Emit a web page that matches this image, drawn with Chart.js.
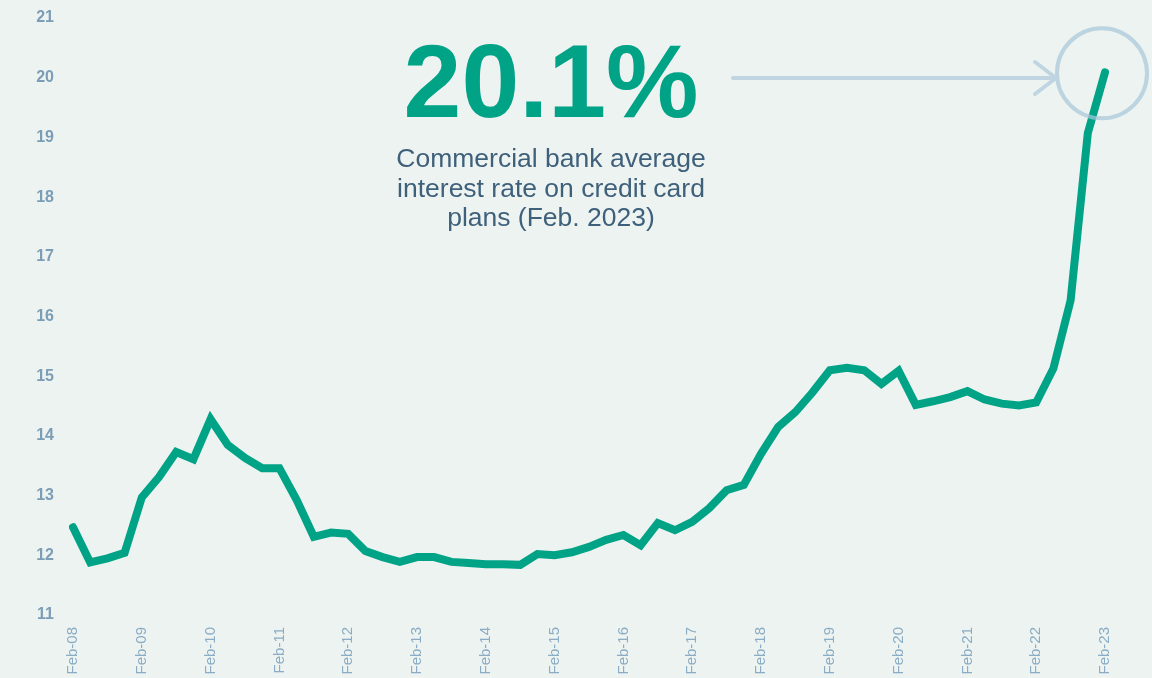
<!DOCTYPE html>
<html>
<head>
<meta charset="utf-8">
<script src="https://cdn.jsdelivr.net/npm/chart.js@4/dist/chart.umd.min.js"></script>
<style>
    body { margin: 0; background: #edf3f1; }
    #wrap { width: 1152px; height: 678px; }
</style>
</head>
<body>
<div id="wrap"><canvas id="myChart" width="1152" height="678"></canvas></div>
<script>
// quarterly survey months, Feb-08 .. Feb-23
var years = ["08", "09", "10", "11", "12", "13", "14", "15", "16", "17", "18", "19", "20", "21", "22", "23"];
var months = ["Feb", "May", "Aug", "Nov"];
var rates = [
    12.47, 11.88, 11.95, 12.04,
    12.97, 13.31, 13.73, 13.61,
    14.28, 13.85, 13.63, 13.46,
    13.46, 12.93, 12.31, 12.38,
    12.36, 12.07, 11.97, 11.89,
    11.97, 11.97, 11.89, 11.87,
    11.85, 11.85, 11.84, 12.02,
    12.00, 12.05, 12.14, 12.26,
    12.34, 12.17, 12.54, 12.42,
    12.56, 12.79, 13.09, 13.18,
    13.70, 14.15, 14.40, 14.73,
    15.10, 15.14, 15.10, 14.87,
    15.09, 14.52, 14.58, 14.65,
    14.75, 14.61, 14.54, 14.51,
    14.56, 15.13, 16.27, 19.07,
    20.09
];
var yTicks = [11, 12, 13, 14, 15, 16, 17, 18, 19, 20, 21];
var bigText = "20.1%";
var noteLines = ["Commercial bank average", "interest rate on credit card", "plans (Feb. 2023)"];

var labels = [];
for (var i = 0; i < years.length; i++) {
    for (var j = 0; j < months.length; j++) {
        if (labels.length < rates.length) labels.push(months[j] + "-" + years[i]);
    }
}

var green = "#00a386";

var noteDraw = {
    id: "noteDraw",
    afterDatasetsDraw: function (chart) {
        var ctx = chart.ctx;
        var pt = chart.getDatasetMeta(0).data[rates.length - 1];
        var cx = pt.x - 3, cy = pt.y + 1, r = 45;
        ctx.save();
        // circle round last point
        ctx.strokeStyle = "rgba(168,200,218,0.72)";
        ctx.lineWidth = 4;
        ctx.beginPath();
        ctx.arc(cx, cy, r, 0, Math.PI * 2);
        ctx.stroke();
        // arrow
        var ay = 78, ax = cx - r - 1;
        ctx.lineCap = "round";
        ctx.lineJoin = "round";
        ctx.beginPath();
        ctx.moveTo(733, ay);
        ctx.lineTo(ax, ay);
        ctx.moveTo(ax - 21, ay - 16);
        ctx.lineTo(ax, ay);
        ctx.lineTo(ax - 21, ay + 16);
        ctx.strokeStyle = "#bfd5e1";
        ctx.stroke();
        // text
        ctx.textAlign = "center";
        ctx.textBaseline = "alphabetic";
        ctx.fillStyle = green;
        ctx.font = "bold 104px 'Liberation Sans', Arial, sans-serif";
        ctx.fillText(bigText, 551, 117);
        ctx.fillStyle = "#3f607b";
        ctx.font = "26.5px 'Liberation Sans', Arial, sans-serif";
        for (var k = 0; k < noteLines.length; k++) {
            ctx.fillText(noteLines[k], 551, 167 + k * 29.5);
        }
        ctx.restore();
    }
};

new Chart("myChart", {
    type: "line",
    data: {
        labels: labels,
        datasets: [{
            data: rates,
            borderColor: green,
            borderWidth: 8,
            borderCapStyle: "round",
            pointRadius: 0,
            tension: 0,
            fill: false
        }]
    },
    options: {
        responsive: false,
        animation: false,
        layout: { padding: { top: 18, right: 47, left: 0, bottom: 0 } },
        plugins: { legend: { display: false }, tooltip: { enabled: false } },
        scales: {
            x: {
                offset: false,
                grid: { display: false, drawTicks: false },
                border: { display: false },
                ticks: {
                    autoSkip: false,
                    maxRotation: 90,
                    minRotation: 90,
                    padding: 12,
                    color: "#8aacc4",
                    font: { family: "'Liberation Sans', Arial, sans-serif", size: 15 },
                    callback: function (v, idx) {
                        return idx % 4 == 0 ? labels[idx] : "";
                    }
                },
                afterFit: function (scale) { scale.height = 63; }
            },
            y: {
                min: 11,
                max: 21,
                grid: { display: false, drawTicks: false },
                border: { display: false },
                afterBuildTicks: function (scale) {
                    scale.ticks = yTicks.map(function (v) { return { value: v }; });
                },
                ticks: {
                    padding: 19,
                    color: "#7b9db5",
                    font: { family: "'Liberation Sans', Arial, sans-serif", size: 16, weight: "bold" }
                },
                afterFit: function (scale) {
                    scale.width = 73;
                    scale.paddingTop = 0;
                    scale.paddingBottom = 0;
                }
            }
        }
    },
    plugins: [noteDraw]
});
</script>
</body>
</html>
